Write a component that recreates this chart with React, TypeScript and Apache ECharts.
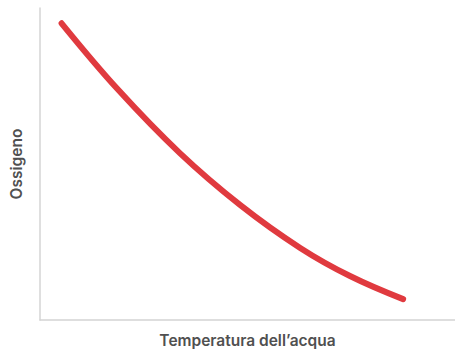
import React, { useEffect, useRef } from "react";
import * as echarts from "echarts";

const temperature = [5.2, 18.9, 33.7, 48.2, 62.7, 74.7, 87.5];
const oxygen = [95.1, 73.7, 53.5, 36.9, 23.1, 14.1, 6.7];
const xTitle = "Temperatura dell’acqua";
const yTitle = "Ossigeno";

export default function App() {
  const ref = useRef<HTMLDivElement>(null);
  useEffect(() => {
    const chart = echarts.init(ref.current!, null, { renderer: "svg" });
    const nameStyle = {
      fontFamily: "Inter",
      fontSize: 15.5,
      fontWeight: 600,
      color: "#505050",
    };
    const axisLine = { show: true, lineStyle: { color: "#d4d4d4", width: 1.5 } };
    chart.setOption({
      animation: false,
      grid: { left: 40, right: 0, top: 8, bottom: 30, outerBoundsMode: "none", containLabel: false },
      xAxis: {
        type: "value",
        min: 0,
        max: 100,
        name: xTitle,
        nameLocation: "middle",
        nameGap: 12,
        nameTextStyle: nameStyle,
        axisLine,
        axisTick: { show: false },
        axisLabel: { show: false },
        splitLine: { show: false },
      },
      yAxis: {
        type: "value",
        min: 0,
        max: 100,
        name: yTitle,
        nameLocation: "middle",
        nameGap: 16,
        nameTextStyle: nameStyle,
        axisLine,
        axisTick: { show: false },
        axisLabel: { show: false },
        splitLine: { show: false },
      },
      series: [
        {
          type: "line",
          data: temperature.map((t, i) => [t, oxygen[i]]),
          smooth: 0.4,
          showSymbol: false,
          lineStyle: { color: "#e03a3f", width: 6, cap: "round", join: "round" },
        },
      ],
    });
    return () => chart.dispose();
  }, []);
  return <div ref={ref} style={{ width: 455, height: 350, position: "absolute", left: 0, top: 0 }} />;
}
